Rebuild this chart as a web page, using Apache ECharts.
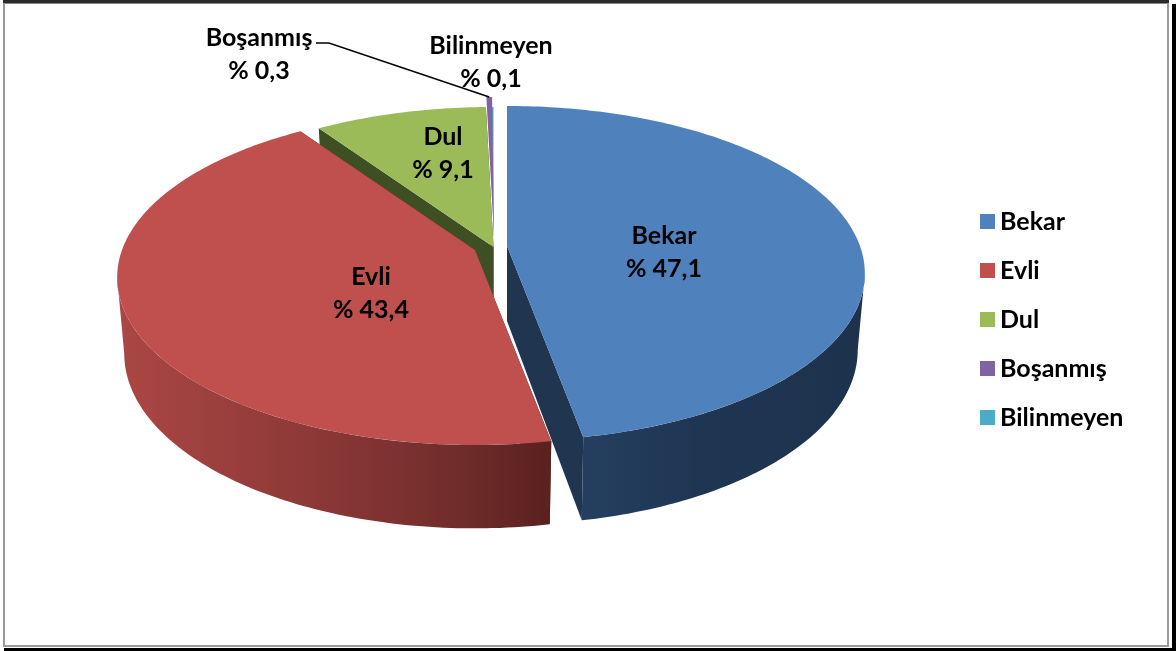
<!DOCTYPE html>
<html>
<head>
<meta charset="utf-8">
<script src="https://cdn.jsdelivr.net/npm/echarts@6/dist/echarts.min.js"></script>
<style>html,body{margin:0;padding:0;background:#fff}#c{width:1176px;height:651px}</style>
</head>
<body>
<div id="c"></div>
<script>
// Data
var categories = ['Bekar', 'Evli', 'Dul', 'Boşanmış', 'Bilinmeyen'];
var percentages = [47.1, 43.4, 9.1, 0.3, 0.1];

// Style and layout (not data)
var topColors = ['#4F81BD', '#C0504D', '#9BBB59', '#8064A2', '#4BACC6'];
var wallDark = ['#1F3550', '#5E2321', '#3F4F24', '#4A3A5E', '#2A6375'];
var wallGradients = [
  [[0, '#253F60'], [0.4, '#1F3653'], [1, '#1D324C']],
  [[0, '#AB4745'], [0.45, '#8C3937'], [0.8, '#6E2C2A'], [1, '#5A211F']],
  null, null, null
];
var sliceCenters = [[507, 246], [475, 250], [493.5, 247], [494, 237], [493.5, 247]];
var labelCenters = [[664, 252], [371, 293], [443, 153], [259, 54], [491, 62]];
var drawOrder = [5, 6, 4, 3, 2];
var hasWalls = [true, true, true, false, false];
var FONT = 'bold 25px Lato';
var KEY = 0.164, TOP_A = 353, TOP_B = 163, BOT_A = 346, BOT_B = 170, DEPTH = 75;

var D2R = Math.PI / 180;
var SILHOUETTE = Math.acos(-KEY) / D2R;
function project(c, a, b, dy, deg) {
  var t = deg * D2R, w = 1 + KEY * Math.cos(t);
  return [c[0] + a * Math.sin(t) / w, c[1] + dy - b * Math.cos(t) / w];
}
function arc(c, a, b, dy, from, to) {
  var pts = [], n = Math.max(2, Math.ceil(Math.abs(to - from)));
  for (var i = 0; i <= n; i++) pts.push(project(c, a, b, dy, from + (to - from) * i / n));
  return pts;
}
function angleRange(idx) {
  var total = percentages.reduce(function (s, v) { return s + v; }, 0), before = 0;
  for (var i = 0; i < idx; i++) before += percentages[i];
  return [before / total * 360, (before + percentages[idx]) / total * 360];
}
function poly(points, fill) {
  return { type: 'polygon', shape: { points: points }, style: { fill: fill, stroke: null }, silent: true };
}
function makeRender(idx) {
  return function (params, api) {
    var r = angleRange(idx), c = sliceCenters[idx], kids = [];
    var apexT = [c[0], c[1]], apexB = [c[0], c[1] + DEPTH];
    if (hasWalls[idx]) {
      [r[0], r[1]].forEach(function (deg) {
        kids.push(poly([apexT, project(c, TOP_A, TOP_B, 0, deg), project(c, BOT_A, BOT_B, DEPTH, deg), apexB], wallDark[idx]));
      });
      var from = Math.max(r[0], SILHOUETTE), to = Math.min(r[1], 360 - SILHOUETTE);
      if (to > from && wallGradients[idx]) {
        var pts = arc(c, TOP_A, TOP_B, 0, from, to).concat(arc(c, BOT_A, BOT_B, DEPTH, to, from));
        var xs = pts.map(function (p) { return p[0]; });
        var x0 = Math.min.apply(null, xs), x1 = Math.max.apply(null, xs);
        var stops = wallGradients[idx].map(function (s) { return { offset: s[0], color: s[1] }; });
        kids.push(poly(pts, new echarts.graphic.LinearGradient(x0, 0, x1, 0, stops, true)));
      }
    }
    kids.push(poly([apexT].concat(arc(c, TOP_A, TOP_B, 0, r[0], r[1])), topColors[idx]));
    if (categories[idx] === 'Boşanmış') {
      kids.push({
        type: 'polyline',
        shape: { points: [[316, 43], [329, 43], project(c, TOP_A, TOP_B, 0, (r[0] + r[1]) / 2)] },
        style: { stroke: '#000', lineWidth: 1.5, fill: null }, silent: true
      });
    }
    kids.push({
      type: 'text', silent: true,
      style: {
        text: categories[idx] + '\n% ' + String(api.value(0)).replace('.', ','),
        x: labelCenters[idx][0], y: labelCenters[idx][1],
        align: 'center', verticalAlign: 'middle', font: FONT, lineHeight: 33, fill: '#000'
      }
    });
    return { type: 'group', children: kids };
  };
}

var chart = echarts.init(document.getElementById('c'), null, { renderer: 'canvas' });
chart.setOption({
  animation: false,
  backgroundColor: '#fff',
  color: topColors,
  legend: {
    data: categories, orient: 'vertical', left: 975, top: 204,
    icon: 'rect', itemWidth: 15, itemHeight: 15, itemGap: 24, selectedMode: false,
    textStyle: { fontFamily: 'Lato', fontWeight: 'bold', fontSize: 25, color: '#000', padding: [0, 0, 0, 0], lineHeight: 25 }
  },
  graphic: [
    { type: 'rect', shape: { x: 3, y: 0, width: 1166, height: 3 }, style: { fill: '#2b2b2b' }, silent: true },
    { type: 'rect', shape: { x: 3, y: 3, width: 1166, height: 1 }, style: { fill: '#888' }, silent: true },
    { type: 'rect', shape: { x: 1172, y: 4, width: 4, height: 647 }, style: { fill: '#000' }, silent: true },
    { type: 'rect', shape: { x: 4, y: 648, width: 1172, height: 3 }, style: { fill: '#000' }, silent: true },
    { type: 'rect', shape: { x: 3, y: 3, width: 2, height: 644 }, style: { fill: '#999' }, silent: true },
    { type: 'rect', shape: { x: 1167, y: 3, width: 2, height: 644 }, style: { fill: '#999' }, silent: true },
    { type: 'rect', shape: { x: 3, y: 645, width: 1166, height: 2 }, style: { fill: '#999' }, silent: true }
  ],
  series: categories.map(function (name, i) {
    return {
      type: 'custom', name: name, coordinateSystem: 'none', z: drawOrder[i],
      silent: true, data: [[percentages[i]]], renderItem: makeRender(i)
    };
  })
});
</script>
</body>
</html>
